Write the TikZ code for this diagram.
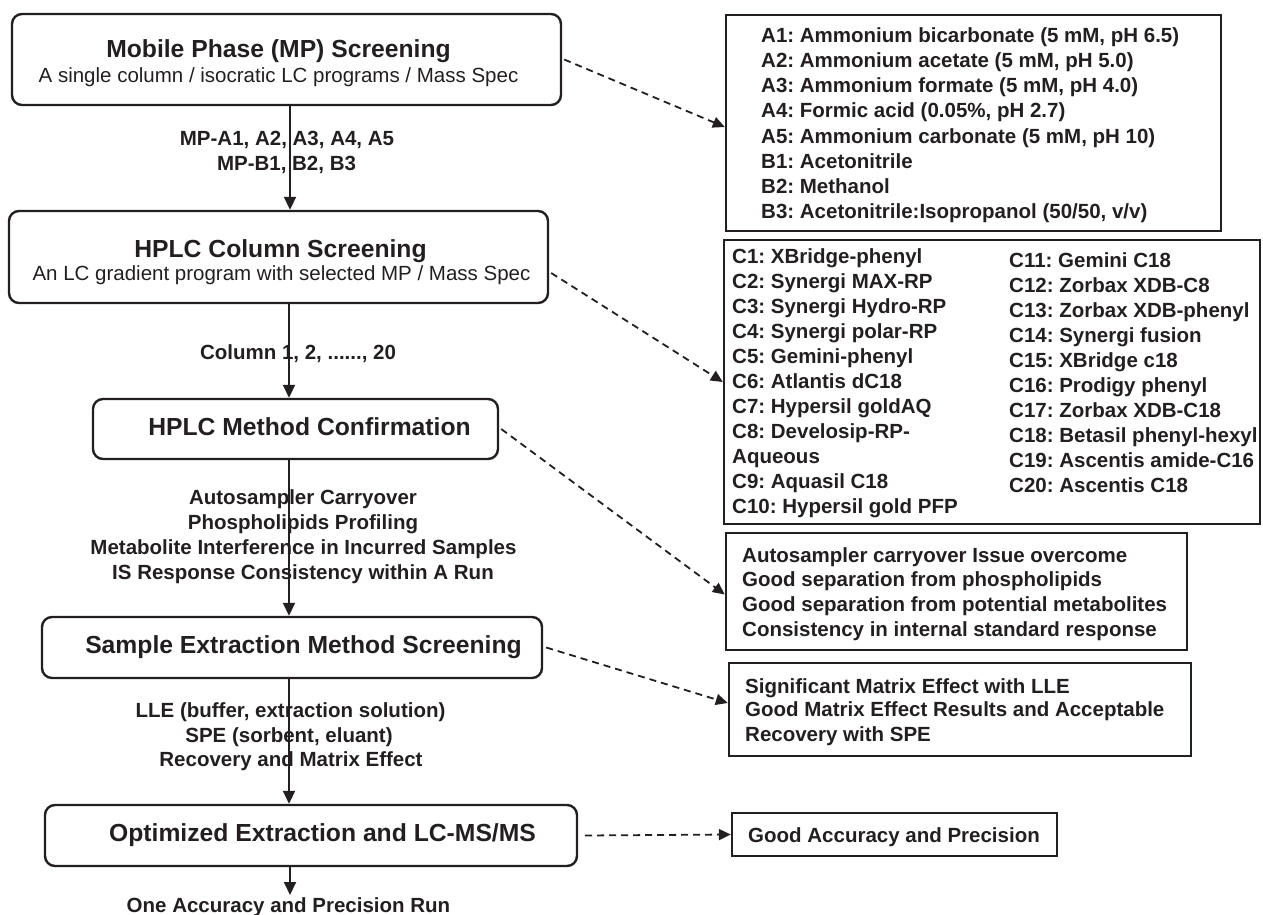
\documentclass[tikz,border=0pt]{standalone}
\usepackage{fontspec}
\setmainfont{Liberation Sans}
\usetikzlibrary{arrows.meta}
\frenchspacing
\definecolor{ink}{HTML}{231F20}
\begin{document}
\begin{tikzpicture}[x=1pt,y=-1pt, color=ink,
  stage/.style={draw, line width=2.4pt, rounded corners=10pt, inner sep=0pt},
  infobox/.style={draw, line width=2.4pt, inner sep=0pt},
  ttl/.style={font=\bfseries\fontsize{24.7}{28}\selectfont, anchor=base, inner sep=0pt},
  sub/.style={font=\fontsize{20.5}{24}\selectfont, anchor=base, inner sep=0pt},
  lbl/.style={font=\bfseries\fontsize{20.5}{24}\selectfont, anchor=base, inner sep=0pt},
  item/.style={font=\bfseries\fontsize{20.5}{24}\selectfont, anchor=base west, inner sep=0pt},
  arr/.style={line width=1.9pt, -{Triangle[length=13pt,width=12pt]}},
  darr/.style={line width=1.8pt, dash pattern=on 7pt off 5pt, -{Triangle[length=12pt,width=11pt]}}]
\useasboundingbox (0,0) rectangle (1263,915);

% stage boxes
\node[stage, minimum width=549pt, minimum height=91pt] (b1) at (286.5,59.5) {};
\node[stage, minimum width=539pt, minimum height=92pt] (b2) at (278.5,257) {};
\node[stage, minimum width=405pt, minimum height=60pt] (b3) at (295.5,429) {};
\node[stage, minimum width=500pt, minimum height=61pt] (b4) at (292,647.5) {};
\node[stage, minimum width=532pt, minimum height=61pt] (b5) at (311,835.5) {};

\node[ttl] (t1) at (278.5,58) {Mobile Phase (MP) Screening};
\node[sub] (s1) at (278.5,83) {A single column / isocratic LC programs / Mass Spec};
\node[ttl] (t2) at (280.5,257) {HPLC Column Screening};
\node[sub] (s2) at (281.5,280) {An LC gradient program with selected MP / Mass Spec};
\node[ttl] (t3) at (309.5,435) {HPLC Method Confirmation};
\node[ttl] (t4) at (303.5,653) {Sample Extraction Method Screening};
\node[ttl] (t5) at (322.5,841) {Optimized Extraction and LC-MS/MS};

% info boxes
\node[infobox, minimum width=495pt, minimum height=216pt] (A) at (973.5,123) {};
\node[infobox, minimum width=536pt, minimum height=284pt] (C) at (992,382) {};
\node[infobox, minimum width=461pt, minimum height=117pt] (D) at (956.5,591.5) {};
\node[infobox, minimum width=462pt, minimum height=93pt] (E) at (960,709.5) {};
\node[infobox, minimum width=325pt, minimum height=43pt] (F) at (894.5,834.5) {};

\foreach \t [count=\i] in {{A1: Ammonium bicarbonate (5 mM, pH 6.5)},{A2: Ammonium acetate (5 mM, pH 5.0)},{A3: Ammonium formate (5 mM, pH 4.0)},{A4: Formic acid (0.05\%, pH 2.7)},{A5: Ammonium carbonate (5 mM, pH 10)},{B1: Acetonitrile},{B2: Methanol},{B3: Acetonitrile:Isopropanol (50/50, v/v)}}
  \node[item] (ia\i) at (761,{43+25*(\i-1)}) {\t};

\foreach \t [count=\i] in {{C1: XBridge-phenyl},{C2: Synergi MAX-RP},{C3: Synergi Hydro-RP},{C4: Synergi polar-RP},{C5: Gemini-phenyl},{C6: Atlantis dC18},{C7: Hypersil goldAQ},{C8: Develosip-RP-},{Aqueous},{C9: Aquasil C18},{C10: Hypersil gold PFP}}
  \node[item] (icl\i) at (732,{263+25*(\i-1)}) {\t};

\foreach \t [count=\i] in {{C11: Gemini C18},{C12: Zorbax XDB-C8},{C13: Zorbax XDB-phenyl},{C14: Synergi fusion},{C15: XBridge c18},{C16: Prodigy phenyl},{C17: Zorbax XDB-C18},{C18: Betasil phenyl-hexyl},{C19: Ascentis amide-C16},{C20: Ascentis C18}}
  \node[item] (icr\i) at (1009,{267+25*(\i-1)}) {\t};

\node[item] (id1) at (742,562) {Autosampler carryover Issue overcome};
\node[item] (id2) at (742,586) {Good separation from phospholipids};
\node[item] (id3) at (742,611) {Good separation from potential metabolites};
\node[item] (id4) at (742,636) {Consistency in internal standard response};

\node[item] (ie1) at (745,693) {Significant Matrix Effect with LLE};
\node[item] (ie2) at (745,716) {Good Matrix Effect Results and Acceptable};
\node[item] (ie3) at (745,741) {Recovery with SPE};

\node[item] (if1) at (748,842) {Good Accuracy and Precision};

% vertical arrows
\draw[arr] ([xshift=3.5pt]b1.south) -- ([xshift=11.5pt]b2.north);
\draw[arr] ([xshift=10.5pt]b2.south) -- ([xshift=-6.5pt]b3.north);
\draw[arr] ([xshift=-6.5pt]b3.south) -- ([xshift=-3pt]b4.north);
\draw[arr] ([xshift=-3pt]b4.south) -- ([xshift=-22pt]b5.north);
\coordinate (aend) at (290,895);
\draw[arr] ([xshift=-21pt]b5.south) -- (aend);

% arrow labels
\node[lbl] (l1) at (287,146) {MP-A1, A2, A3, A4, A5};
\node[lbl] (l2) at (286.5,170) {MP-B1, B2, B3};
\node[lbl] (l3) at (298,359) {Column 1, 2, ......, 20};
\node[lbl] (l4) at (303,504) {Autosampler Carryover};
\node[lbl] (l5) at (303,529) {Phospholipids Profiling};
\node[lbl] (l6) at (303.5,554) {Metabolite Interference in Incurred Samples};
\node[lbl] (l7) at (303,579) {IS Response Consistency within A Run};
\node[lbl] (l8) at (290.5,717) {LLE (buffer, extraction solution)};
\node[lbl] (l9) at (289,742) {SPE (sorbent, eluant)};
\node[lbl] (l10) at (291,766) {Recovery and Matrix Effect};
\node[lbl] (l11) at (288.5,912) {One Accuracy and Precision Run};

% dashed arrows
\draw[darr] ([xshift=2pt]b1.east) -- ([yshift=-4pt]A.west);
\draw[darr] ([xshift=2pt,yshift=-16pt]b2.east) -- (C.west);
\draw[darr] ([xshift=2pt]b3.east) -- ([yshift=-3pt]D.west);
\draw[darr] ([xshift=3pt]b4.east) -- ([yshift=6.5pt]E.west);
\draw[darr] ([xshift=7pt]b5.east) -- (F.west);
\end{tikzpicture}
\end{document}
